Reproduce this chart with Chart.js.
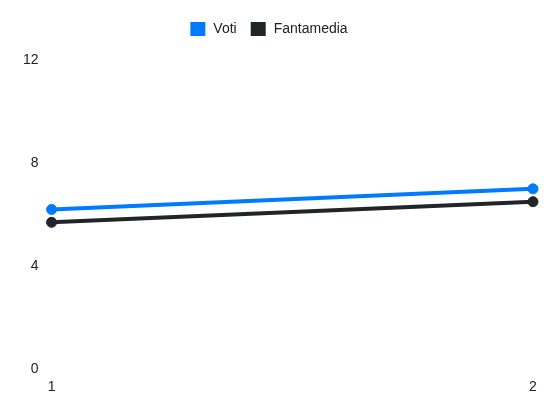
<!DOCTYPE html>
<html>
<head>
<meta charset="utf-8">
<script src="https://cdn.jsdelivr.net/npm/chart.js@4/dist/chart.umd.min.js"></script>
<style>
  html, body { margin: 0; padding: 0; background: #fff; }
  #wrap { width: 550px; height: 412px; }
</style>
</head>
<body>
<div id="wrap"><canvas id="lineChart" width="550" height="412"></canvas></div>
<script>
var giornate = ['1', '2'];
var voti = [6.2, 7];
var fantamedia = [5.7, 6.5];
var yTicks = [0, 4, 8, 12];

Chart.defaults.font.family = '"Liberation Sans", Arial, sans-serif';
Chart.defaults.font.size = 14;
Chart.defaults.color = '#222';

var lineChart = document.getElementById('lineChart');

// legend sits higher above the plot and a bit more to the left than chart.js puts it
var legendGap = {
    id: 'legendGap',
    beforeInit: function(chart) {
        var origFit = chart.legend.fit;
        chart.legend.fit = function() {
            origFit.call(this);
            this.height += 13;
        };
    },
    afterLayout: function(chart) {
        chart.legend.left -= 7;
        chart.legend.right -= 7;
    }
};

new Chart(lineChart, {
    type: 'line',
    data: {
        labels: giornate,
        datasets: [{
            label: 'Voti',
            data: voti,
            borderColor: '#007bff',
            backgroundColor: '#007bff',
            borderWidth: 4,
            pointRadius: 5,
            pointBorderWidth: 1,
            fill: false
        }, {
            label: 'Fantamedia',
            data: fantamedia,
            borderColor: '#212529',
            backgroundColor: '#212529',
            borderWidth: 4,
            pointRadius: 5,
            pointBorderWidth: 1,
            fill: false
        }]
    },
    options: {
        responsive: false,
        animation: false,
        layout: { padding: { left: 18, right: 17, top: 8, bottom: 14 } },
        plugins: {
            legend: {
                labels: {
                    boxWidth: 17,
                    boxHeight: 16,
                    padding: 13,
                    // white 2px stroke trims the swatch to 15x14 and leaves a little gap before the text
                    generateLabels: function(chart) {
                        var items = Chart.defaults.plugins.legend.labels.generateLabels(chart);
                        items.forEach(function(item) {
                            item.lineWidth = 2;
                            item.strokeStyle = '#fff';
                        });
                        return items;
                    }
                }
            },
            tooltip: { enabled: false }
        },
        scales: {
            x: {
                grid: { display: false },
                border: { display: false },
                ticks: { padding: 2 }
            },
            y: {
                min: 0,
                max: 12,
                grid: { display: false },
                border: { display: false },
                afterBuildTicks: function(axis) {
                    axis.ticks = yTicks.map(function(v) { return { value: v }; });
                },
                ticks: { padding: 5 }
            }
        }
    },
    plugins: [legendGap]
});
</script>
</body>
</html>
